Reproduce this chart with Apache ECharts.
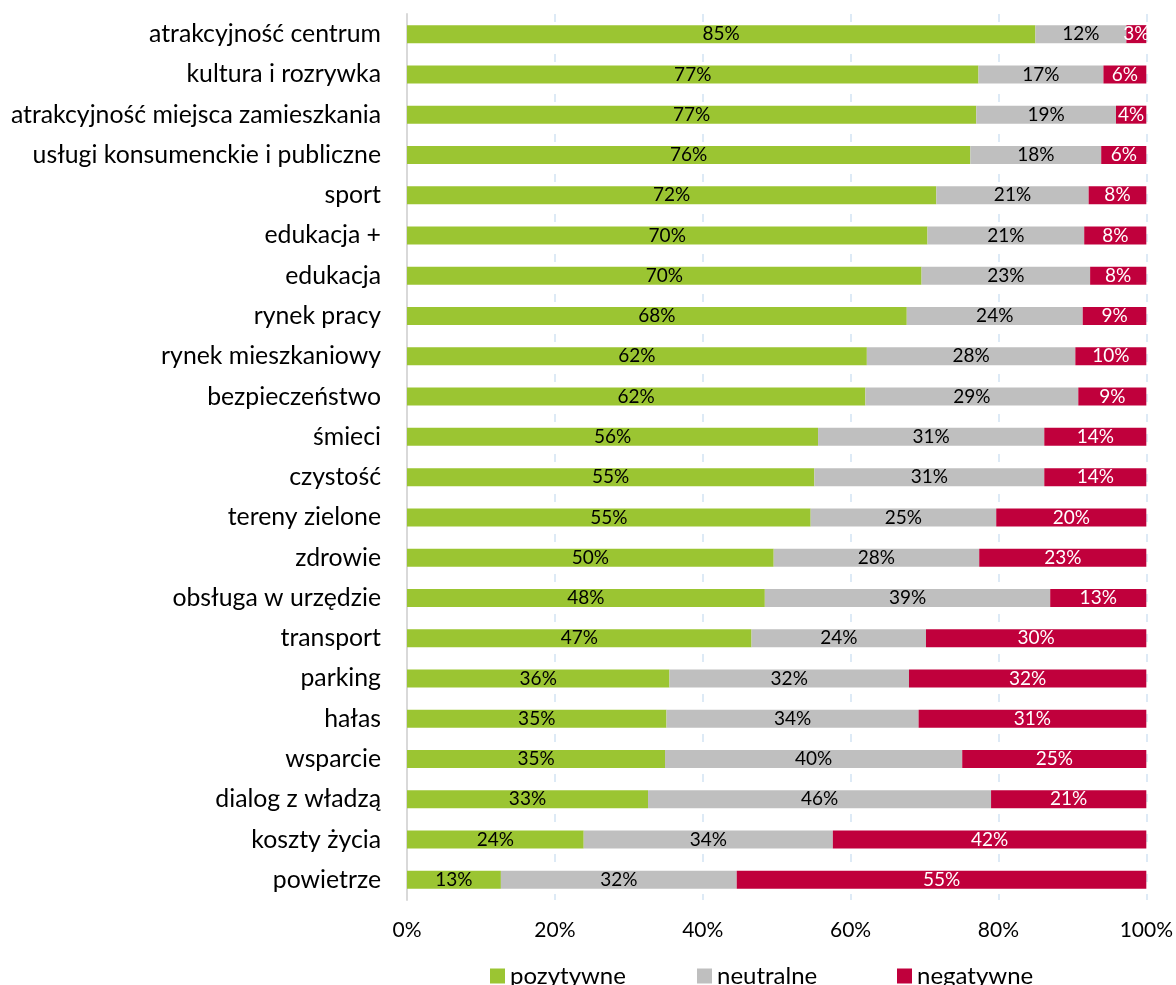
<!DOCTYPE html>
<html><head><meta charset="utf-8">
<script src="https://cdn.jsdelivr.net/npm/echarts@6/dist/echarts.min.js"></script>
<style>html,body{margin:0;padding:0;background:#fff}#c{width:1176px;height:985px}</style>
</head><body><div id="c"></div>
<script>
const categories = ["atrakcyjność centrum","kultura i rozrywka","atrakcyjność miejsca zamieszkania","usługi konsumenckie i publiczne","sport","edukacja +","edukacja","rynek pracy","rynek mieszkaniowy","bezpieczeństwo","śmieci","czystość","tereny zielone","zdrowie","obsługa w urzędzie","transport","parking","hałas","wsparcie","dialog z władzą","koszty życia","powietrze"];
const pozytywne = [85.0,77.3,77.0,76.2,71.6,70.4,69.6,67.6,62.2,62.0,55.6,55.1,54.6,49.6,48.4,46.6,35.5,35.1,34.9,32.6,23.9,12.7];
const neutralne = [12.3,16.9,18.9,17.7,20.6,21.2,22.8,23.8,28.2,28.8,30.6,31.1,25.1,27.8,38.6,23.6,32.4,34.1,40.2,46.4,33.7,31.9];
const negatywne = [2.7,5.8,4.1,6.1,7.8,8.4,7.6,8.6,9.6,9.2,13.8,13.8,20.3,22.6,13.0,29.8,32.1,30.8,24.9,21.0,42.4,55.4];
const seriesNames = ['pozytywne','neutralne','negatywne'];
const xTicks = [0,20,40,60,80,100];

const FONT = 'Lato';
function mk(name, data, color, labelColor) {
  return {
    name, type: 'bar', stack: 'total', data, barWidth: 18,
    itemStyle: { color },
    label: { show: true, position: 'inside', color: labelColor, fontFamily: FONT, fontSize: 19,
      formatter: p => Math.round(p.value) + '%' },
    emphasis: { disabled: true }
  };
}
const legendLefts = [490, 697, 897];
const chart = echarts.init(document.getElementById('c'), null, {renderer: 'canvas'});
chart.setOption({
  animation: false,
  textStyle: { fontFamily: FONT },
  grid: { left: 407, right: 29, top: 14, bottom: 85 },
  legend: seriesNames.map((n, i) => ({
    top: 964, left: legendLefts[i], padding: 0, itemWidth: 15, itemHeight: 15, icon: 'rect',
    textStyle: { fontFamily: FONT, fontSize: 24, color: '#000', padding: [0,0,0,0] },
    data: [n]
  })),
  xAxis: {
    type: 'value', min: 0, max: 100, interval: 20,
    axisLine: { show: false }, axisTick: { show: false },
    splitLine: { show: true, lineStyle: { color: '#d2e4f3', type: [8, 12], width: 1.5 } },
    axisLabel: { color: '#000', fontSize: 21, fontFamily: FONT, margin: 20,
      formatter: v => xTicks.includes(v) ? v + '%' : '' }
  },
  yAxis: {
    type: 'category', data: categories, inverse: true,
    axisLine: { show: true, lineStyle: { color: '#d9d9d9', width: 2 } },
    axisTick: { show: false },
    axisLabel: { color: '#000', fontSize: 24.8, fontFamily: FONT, margin: 26 }
  },
  series: [
    mk(seriesNames[0], pozytywne, '#9bc532', '#000'),
    mk(seriesNames[1], neutralne, '#bfbfbf', '#000'),
    mk(seriesNames[2], negatywne, '#c0003c', '#fff')
  ]
});
</script></body></html>
